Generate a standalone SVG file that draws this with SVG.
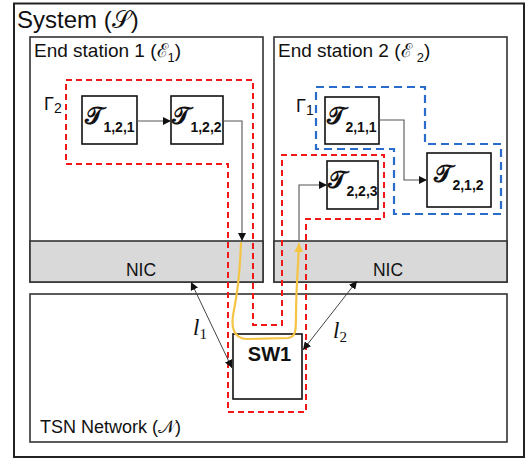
<svg xmlns="http://www.w3.org/2000/svg" width="528" height="460" viewBox="0 0 528 460">
<defs>
<style>
.box{fill:#fff;stroke:#333;stroke-width:1.6}
.nic{fill:#d9d9d9;stroke:#333;stroke-width:1.6}
.task{fill:#fff;stroke:#111;stroke-width:1.6}
.lbl{font-family:"Liberation Sans",Arial,sans-serif;fill:#111}
.T{font-family:"DejaVu Serif","Noto Sans",serif;font-weight:bold;font-size:24px}
.sub{font-family:"Liberation Sans",Arial,sans-serif;font-weight:bold;font-size:14px}
.red{fill:none;stroke:#f01818;stroke-width:2;stroke-dasharray:6 4}
.blue{fill:none;stroke:#2a6ccc;stroke-width:2.2;stroke-dasharray:8 5}
.conn{fill:none;stroke:#555;stroke-width:1.1}
.link{fill:none;stroke:#444;stroke-width:1}
.yel{fill:none;stroke:#f6c445;stroke-width:2.2;stroke-linecap:round}
.math{font-family:"Liberation Serif","DejaVu Serif",serif;font-style:italic;fill:#111}
</style>
<marker id="ah" viewBox="0 0 10 10" refX="10" refY="5" markerWidth="8" markerHeight="8" markerUnits="userSpaceOnUse" orient="auto-start-reverse"><path d="M0,0 L10,5 L0,10 z" fill="#111"/></marker>
<marker id="ahy" viewBox="0 0 10 10" refX="9" refY="5" markerWidth="9" markerHeight="9" markerUnits="userSpaceOnUse" orient="auto"><path d="M0,0 L10,5 L0,10 z" fill="#f6c445"/></marker>
</defs>
<rect width="528" height="460" fill="#fff"/>

<g id="system">
<rect x="14" y="3.5" width="510" height="453.5" fill="#fff" stroke="#222" stroke-width="2"/>
<text class="lbl" x="17" y="28" font-size="24">System (𝒮)</text>
</g>

<g id="es1">
<rect class="box" x="30" y="37" width="233" height="245"/>
<rect class="nic" x="30" y="241" width="233" height="41"/>
<text class="lbl" x="141" y="276" font-size="17.5" text-anchor="middle">NIC</text>
<text class="lbl" x="34" y="57" font-size="19">End station 1 (ℰ<tspan font-size="13" dy="5">1</tspan><tspan dy="-5">)</tspan></text>
</g>

<g id="es2">
<rect class="box" x="274" y="37" width="233" height="245"/>
<rect class="nic" x="274" y="241" width="233" height="41"/>
<text class="lbl" x="388" y="276" font-size="17.5" text-anchor="middle">NIC</text>
<text class="lbl" x="278" y="57" font-size="19">End station 2 (ℰ <tspan font-size="13" dy="5">2</tspan><tspan dy="-5">)</tspan></text>
</g>

<g id="tsn">
<rect class="box" x="30" y="294" width="477" height="148"/>
<text class="lbl" x="40" y="433" font-size="18">TSN Network (𝒩)</text>
</g>

<g id="sw1">
<rect class="task" x="233" y="334" width="69" height="65"/>
<text class="lbl" x="269.5" y="361" font-size="20" font-weight="bold" text-anchor="middle">SW1</text>
</g>

<g id="t121">
<rect class="task" x="82" y="96" width="55" height="48"/>
<text x="110" y="124" text-anchor="middle" fill="#111"><tspan class="T">𝒯</tspan><tspan class="sub" dy="8">1,2,1</tspan></text>
</g>
<g id="t122">
<rect class="task" x="171" y="96" width="52" height="48"/>
<text x="197" y="124" text-anchor="middle" fill="#111"><tspan class="T">𝒯</tspan><tspan class="sub" dy="8">1,2,2</tspan></text>
</g>
<g id="t211">
<rect class="task" x="325" y="97" width="54" height="47"/>
<text x="352" y="124" text-anchor="middle" fill="#111"><tspan class="T">𝒯</tspan><tspan class="sub" dy="8">2,1,1</tspan></text>
</g>
<g id="t212">
<rect class="task" x="427" y="153" width="64" height="54"/>
<text x="459" y="182" text-anchor="middle" fill="#111"><tspan class="T">𝒯</tspan><tspan class="sub" dy="8">2,1,2</tspan></text>
</g>
<g id="t223">
<rect class="task" x="327" y="161" width="51" height="48"/>
<text x="353" y="188" text-anchor="middle" fill="#111"><tspan class="T">𝒯</tspan><tspan class="sub" dy="8">2,2,3</tspan></text>
</g>

<g id="gamma2">
<polygon class="red" points="66,80 253,80 253,325 282,325 282,155 384,155 384,219 306,219 306,412 228,412 228,164 66,164"/>
<text class="lbl" x="44" y="110" font-size="18">Γ<tspan font-size="14" dy="3">2</tspan></text>
</g>
<g id="gamma1">
<polygon class="blue" points="316,87 425,87 425,144 501,144 501,214 394,214 394,149 316,149"/>
<text class="lbl" x="296" y="112" font-size="18">Γ<tspan font-size="14" dy="3">1</tspan></text>
</g>

<g id="connectors">
<path class="conn" d="M137,121 H171" marker-end="url(#ah)"/>
<path class="conn" d="M223,121 H242 V241" marker-end="url(#ah)"/>
<path class="conn" d="M379,120 H404 V180 H427" marker-end="url(#ah)"/>
<path class="conn" d="M299,241 V185 H327" marker-end="url(#ah)"/>
<path class="link" d="M191,282 L232,368" marker-start="url(#ah)" marker-end="url(#ah)"/>
<path class="link" d="M357,281 L303,350" marker-start="url(#ah)" marker-end="url(#ah)"/>
<path class="yel" d="M241,243 C240,270 238,290 234,310 C230,328 234,338 246,339 L288,338 C296,337 296,330 296,315 C296,290 298,270 299,244" marker-end="url(#ahy)"/>
</g>

<g id="labels">
<text class="math" x="193" y="335" font-size="23">l<tspan font-size="15" dy="4" font-style="normal">1</tspan></text>
<text class="math" x="333" y="338" font-size="23">l<tspan font-size="15" dy="4" font-style="normal">2</tspan></text>
</g>
</svg>
